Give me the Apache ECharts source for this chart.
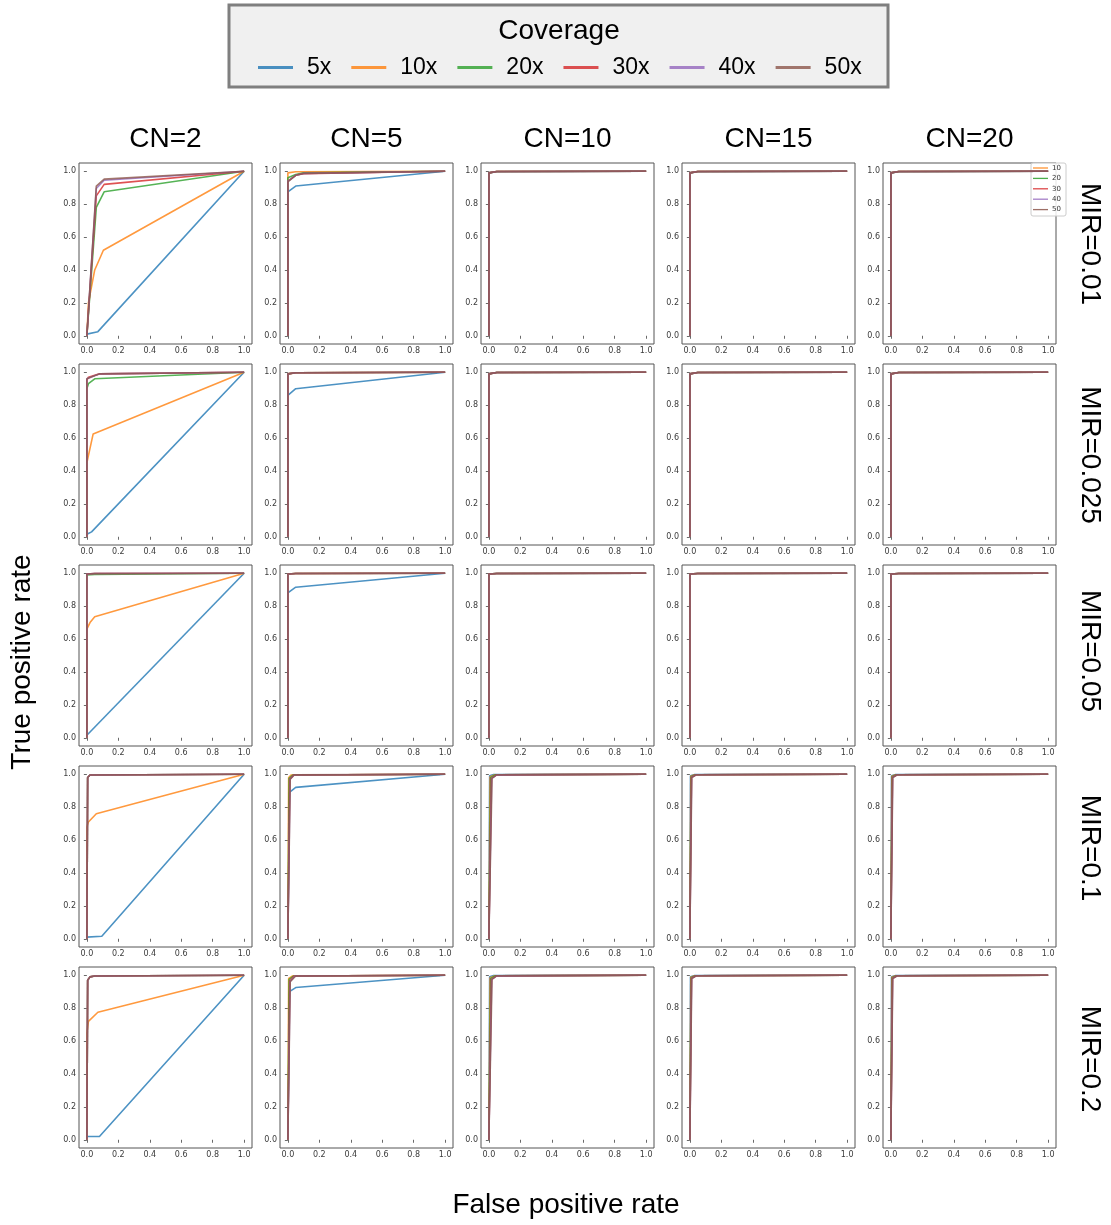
<!DOCTYPE html>
<html>
<head>
<meta charset="utf-8">
<script src="https://cdn.jsdelivr.net/npm/echarts@6/dist/echarts.min.js"></script>
<style>
html,body{margin:0;padding:0;background:#fff;}
#chart{width:1111px;height:1225px;}
</style>
</head>
<body>
<div id="chart"></div>
<script>
// ---------- labels ----------
const coverages = ['5x', '10x', '20x', '30x', '40x', '50x'];
const cnLabels = ['CN=2', 'CN=5', 'CN=10', 'CN=15', 'CN=20'];
const mirLabels = ['MIR=0.01', 'MIR=0.025', 'MIR=0.05', 'MIR=0.1', 'MIR=0.2'];
const tickValues = [0, 0.2, 0.4, 0.6, 0.8, 1.0];
const miniLegendLabels = ['10', '20', '30', '40', '50'];
const xTitle = 'False positive rate';
const yTitle = 'True positive rate';
const legendTitle = 'Coverage';

// ---------- ROC curves: [FPR, TPR] per coverage (5x,10x,20x,30x,40x,50x) ----------
// MIR = 0.01
const roc_mir001_cn2 = [
  [[0,0.01],[0.07,0.025],[1,1]],
  [[0,0],[0.01,0.2],[0.05,0.4],[0.105,0.52],[1,1]],
  [[0,0],[0.06,0.78],[0.11,0.875],[1,1]],
  [[0,0],[0.06,0.85],[0.11,0.92],[1,1]],
  [[0,0],[0.06,0.895],[0.11,0.945],[1,1]],
  [[0,0],[0.06,0.91],[0.11,0.952],[1,1]]
];
const roc_mir001_cn5 = [
  [[0,0],[0,0.875],[0.05,0.91],[1,1]],
  [[0,0],[0,0.99],[0.05,0.997],[1,1]],
  [[0,0],[0,0.96],[0.05,0.98],[0.1,0.99],[1,1]],
  [[0,0],[0,0.94],[0.05,0.975],[0.1,0.985],[1,1]],
  [[0,0],[0,0.94],[0.05,0.975],[0.1,0.987],[1,1]],
  [[0,0],[0,0.935],[0.05,0.975],[0.1,0.987],[1,1]]
];
const roc_mir001_cn10 = [
  [[0,0],[0,0.99],[0.05,0.997],[1,1]],
  [[0,0],[0,0.99],[0.05,0.998],[1,1]],
  [[0,0],[0,0.99],[0.05,0.998],[1,1]],
  [[0,0],[0,0.99],[0.05,0.998],[1,1]],
  [[0,0],[0,0.99],[0.05,0.998],[1,1]],
  [[0,0],[0,0.99],[0.05,0.998],[1,1]]
];
const roc_mir001_cn15 = [
  [[0,0],[0,0.99],[0.05,0.997],[1,1]],
  [[0,0],[0,0.99],[0.05,0.998],[1,1]],
  [[0,0],[0,0.99],[0.05,0.998],[1,1]],
  [[0,0],[0,0.99],[0.05,0.998],[1,1]],
  [[0,0],[0,0.99],[0.05,0.998],[1,1]],
  [[0,0],[0,0.99],[0.05,0.998],[1,1]]
];
const roc_mir001_cn20 = [
  [[0,0],[0,0.99],[0.05,0.997],[1,1]],
  [[0,0],[0,0.99],[0.05,0.998],[1,1]],
  [[0,0],[0,0.99],[0.05,0.998],[1,1]],
  [[0,0],[0,0.99],[0.05,0.998],[1,1]],
  [[0,0],[0,0.99],[0.05,0.998],[1,1]],
  [[0,0],[0,0.99],[0.05,0.998],[1,1]]
];
// MIR = 0.025
const roc_mir0025_cn2 = [
  [[0,0.015],[0.03,0.03],[1,1]],
  [[0,0],[0,0.45],[0.04,0.625],[1,1]],
  [[0,0],[0,0.9],[0.01,0.93],[0.05,0.96],[1,1]],
  [[0,0],[0,0.95],[0.01,0.97],[0.08,0.99],[1,1]],
  [[0,0],[0,0.96],[0.01,0.972],[0.08,0.99],[1,1]],
  [[0,0],[0,0.96],[0.01,0.972],[0.08,0.99],[1,1]]
];
const roc_mir0025_cn5 = [
  [[0,0],[0,0.86],[0.05,0.9],[1,1]],
  [[0,0],[0,0.99],[0.05,0.997],[1,1]],
  [[0,0],[0,0.99],[0.05,0.997],[1,1]],
  [[0,0],[0,0.99],[0.05,0.997],[1,1]],
  [[0,0],[0,0.99],[0.05,0.997],[1,1]],
  [[0,0],[0,0.99],[0.05,0.997],[1,1]]
];
const roc_mir0025_cn10 = [
  [[0,0],[0,0.99],[0.05,0.998],[1,1]],
  [[0,0],[0,0.99],[0.05,0.998],[1,1]],
  [[0,0],[0,0.99],[0.05,0.998],[1,1]],
  [[0,0],[0,0.99],[0.05,0.998],[1,1]],
  [[0,0],[0,0.99],[0.05,0.998],[1,1]],
  [[0,0],[0,0.99],[0.05,0.998],[1,1]]
];
const roc_mir0025_cn15 = [
  [[0,0],[0,0.99],[0.05,0.998],[1,1]],
  [[0,0],[0,0.99],[0.05,0.998],[1,1]],
  [[0,0],[0,0.99],[0.05,0.998],[1,1]],
  [[0,0],[0,0.99],[0.05,0.998],[1,1]],
  [[0,0],[0,0.99],[0.05,0.998],[1,1]],
  [[0,0],[0,0.99],[0.05,0.998],[1,1]]
];
const roc_mir0025_cn20 = [
  [[0,0],[0,0.99],[0.05,0.998],[1,1]],
  [[0,0],[0,0.99],[0.05,0.998],[1,1]],
  [[0,0],[0,0.99],[0.05,0.998],[1,1]],
  [[0,0],[0,0.99],[0.05,0.998],[1,1]],
  [[0,0],[0,0.99],[0.05,0.998],[1,1]],
  [[0,0],[0,0.99],[0.05,0.998],[1,1]]
];
// MIR = 0.05
const roc_mir005_cn2 = [
  [[0,0.015],[0.01,0.02],[1,1]],
  [[0,0],[0,0.66],[0.02,0.7],[0.05,0.735],[1,1]],
  [[0,0],[0,0.99],[0.05,0.993],[1,1]],
  [[0,0],[0,0.995],[0.05,0.998],[1,1]],
  [[0,0],[0,0.995],[0.05,0.998],[1,1]],
  [[0,0],[0,0.995],[0.05,0.998],[1,1]]
];
const roc_mir005_cn5 = [
  [[0,0],[0,0.88],[0.05,0.915],[1,1]],
  [[0,0],[0,0.995],[0.05,0.998],[1,1]],
  [[0,0],[0,0.995],[0.05,0.998],[1,1]],
  [[0,0],[0,0.995],[0.05,0.998],[1,1]],
  [[0,0],[0,0.995],[0.05,0.998],[1,1]],
  [[0,0],[0,0.995],[0.05,0.998],[1,1]]
];
const roc_mir005_cn10 = [
  [[0,0],[0,0.995],[0.05,0.998],[1,1]],
  [[0,0],[0,0.995],[0.05,0.998],[1,1]],
  [[0,0],[0,0.995],[0.05,0.998],[1,1]],
  [[0,0],[0,0.995],[0.05,0.998],[1,1]],
  [[0,0],[0,0.995],[0.05,0.998],[1,1]],
  [[0,0],[0,0.995],[0.05,0.998],[1,1]]
];
const roc_mir005_cn15 = [
  [[0,0],[0,0.995],[0.05,0.998],[1,1]],
  [[0,0],[0,0.995],[0.05,0.998],[1,1]],
  [[0,0],[0,0.995],[0.05,0.998],[1,1]],
  [[0,0],[0,0.995],[0.05,0.998],[1,1]],
  [[0,0],[0,0.995],[0.05,0.998],[1,1]],
  [[0,0],[0,0.995],[0.05,0.998],[1,1]]
];
const roc_mir005_cn20 = [
  [[0,0],[0,0.995],[0.05,0.998],[1,1]],
  [[0,0],[0,0.995],[0.05,0.998],[1,1]],
  [[0,0],[0,0.995],[0.05,0.998],[1,1]],
  [[0,0],[0,0.995],[0.05,0.998],[1,1]],
  [[0,0],[0,0.995],[0.05,0.998],[1,1]],
  [[0,0],[0,0.995],[0.05,0.998],[1,1]]
];
// MIR = 0.1
const roc_mir01_cn2 = [
  [[0,0.01],[0.095,0.015],[1,1]],
  [[0,0],[0,0.68],[0.01,0.71],[0.06,0.76],[1,1]],
  [[0,0],[0.005,0.98],[0.02,0.995],[1,1]],
  [[0,0],[0.005,0.98],[0.02,0.995],[1,1]],
  [[0,0],[0.005,0.98],[0.02,0.995],[1,1]],
  [[0,0],[0.005,0.98],[0.02,0.995],[1,1]]
];
const roc_mir01_cn5 = [
  [[0,0],[0.01,0.89],[0.05,0.92],[1,1]],
  [[0,0],[0.005,0.98],[0.02,0.995],[1,1]],
  [[0,0],[0.008,0.975],[0.03,0.995],[1,1]],
  [[0,0],[0.012,0.97],[0.035,0.995],[1,1]],
  [[0,0],[0.014,0.97],[0.04,0.995],[1,1]],
  [[0,0],[0.015,0.97],[0.04,0.996],[1,1]]
];
const roc_mir01_cn10 = [
  [[0,0],[0.005,0.99],[0.03,0.998],[1,1]],
  [[0,0],[0.008,0.985],[0.04,0.997],[1,1]],
  [[0,0],[0.012,0.98],[0.04,0.996],[1,1]],
  [[0,0],[0.016,0.975],[0.05,0.996],[1,1]],
  [[0,0],[0.018,0.975],[0.05,0.996],[1,1]],
  [[0,0],[0.02,0.975],[0.05,0.997],[1,1]]
];
const roc_mir01_cn15 = [
  [[0,0],[0.004,0.99],[0.03,0.998],[1,1]],
  [[0,0],[0.006,0.988],[0.03,0.997],[1,1]],
  [[0,0],[0.008,0.985],[0.035,0.997],[1,1]],
  [[0,0],[0.01,0.982],[0.04,0.997],[1,1]],
  [[0,0],[0.011,0.982],[0.04,0.997],[1,1]],
  [[0,0],[0.012,0.98],[0.04,0.997],[1,1]]
];
const roc_mir01_cn20 = [
  [[0,0],[0.004,0.99],[0.03,0.998],[1,1]],
  [[0,0],[0.006,0.988],[0.03,0.997],[1,1]],
  [[0,0],[0.008,0.985],[0.035,0.997],[1,1]],
  [[0,0],[0.01,0.982],[0.04,0.997],[1,1]],
  [[0,0],[0.011,0.982],[0.04,0.997],[1,1]],
  [[0,0],[0.012,0.98],[0.04,0.997],[1,1]]
];
// MIR = 0.2
const roc_mir02_cn2 = [
  [[0,0.02],[0.08,0.02],[1,1]],
  [[0,0],[0,0.65],[0.01,0.72],[0.07,0.775],[1,1]],
  [[0,0],[0.005,0.97],[0.02,0.99],[0.05,0.995],[1,1]],
  [[0,0],[0.005,0.97],[0.02,0.99],[0.05,0.995],[1,1]],
  [[0,0],[0.005,0.97],[0.02,0.99],[0.05,0.995],[1,1]],
  [[0,0],[0.005,0.97],[0.02,0.99],[0.05,0.995],[1,1]]
];
const roc_mir02_cn5 = [
  [[0,0],[0.01,0.9],[0.02,0.91],[0.05,0.925],[1,1]],
  [[0,0],[0.005,0.98],[0.03,0.995],[1,1]],
  [[0,0],[0.008,0.975],[0.035,0.995],[1,1]],
  [[0,0],[0.012,0.965],[0.04,0.995],[1,1]],
  [[0,0],[0.014,0.962],[0.045,0.995],[1,1]],
  [[0,0],[0.015,0.96],[0.05,0.995],[1,1]]
];
const roc_mir02_cn10 = [
  [[0,0],[0.005,0.99],[0.03,0.998],[1,1]],
  [[0,0],[0.008,0.985],[0.04,0.997],[1,1]],
  [[0,0],[0.012,0.98],[0.04,0.996],[1,1]],
  [[0,0],[0.016,0.975],[0.05,0.996],[1,1]],
  [[0,0],[0.018,0.975],[0.05,0.996],[1,1]],
  [[0,0],[0.02,0.975],[0.05,0.997],[1,1]]
];
const roc_mir02_cn15 = [
  [[0,0],[0.004,0.99],[0.03,0.998],[1,1]],
  [[0,0],[0.006,0.988],[0.03,0.997],[1,1]],
  [[0,0],[0.008,0.985],[0.035,0.997],[1,1]],
  [[0,0],[0.01,0.982],[0.04,0.997],[1,1]],
  [[0,0],[0.011,0.982],[0.04,0.997],[1,1]],
  [[0,0],[0.012,0.98],[0.04,0.997],[1,1]]
];
const roc_mir02_cn20 = [
  [[0,0],[0.004,0.99],[0.03,0.998],[1,1]],
  [[0,0],[0.006,0.988],[0.03,0.997],[1,1]],
  [[0,0],[0.008,0.985],[0.035,0.997],[1,1]],
  [[0,0],[0.01,0.982],[0.04,0.997],[1,1]],
  [[0,0],[0.011,0.982],[0.04,0.997],[1,1]],
  [[0,0],[0.012,0.98],[0.04,0.997],[1,1]]
];

const panels = [
  [roc_mir001_cn2, roc_mir001_cn5, roc_mir001_cn10, roc_mir001_cn15, roc_mir001_cn20],
  [roc_mir0025_cn2, roc_mir0025_cn5, roc_mir0025_cn10, roc_mir0025_cn15, roc_mir0025_cn20],
  [roc_mir005_cn2, roc_mir005_cn5, roc_mir005_cn10, roc_mir005_cn15, roc_mir005_cn20],
  [roc_mir01_cn2, roc_mir01_cn5, roc_mir01_cn10, roc_mir01_cn15, roc_mir01_cn20],
  [roc_mir02_cn2, roc_mir02_cn5, roc_mir02_cn10, roc_mir02_cn15, roc_mir02_cn20]
];

// ---------- styling / layout ----------
const colors = ['#1f77b4', '#ff7f0e', '#2ca02c', '#d62728', '#9467bd', '#8c564b'];
const gridLeft0 = 79, gridTop0 = 163, gridStep = 201, gridW = 173, gridH = 181;
const rowLabelCenters = [244, 455, 651, 848, 1059];
const titleFont = 'Liberation Sans, Arial, Helvetica, sans-serif';
const tickFont = 'DejaVu Sans, sans-serif';

const grids = [], xAxes = [], yAxes = [], series = [];
let idx = 0;
for (let r = 0; r < 5; r++) {
  for (let c = 0; c < 5; c++) {
    grids.push({
      left: gridLeft0 + c * gridStep, top: gridTop0 + r * gridStep,
      width: gridW, height: gridH, show: true,
      borderColor: '#555', borderWidth: 1, backgroundColor: 'transparent', containLabel: false
    });
    const axisCommon = {
      gridIndex: idx, type: 'value', min: -0.05, max: 1.05,
      axisLine: { show: false },
      axisTick: { show: true, customValues: tickValues, length: 3, lineStyle: { color: '#444', width: 0.8 } },
      axisLabel: { customValues: tickValues, formatter: v => v.toFixed(1), fontSize: 8, color: '#3a3a3a', fontFamily: tickFont, margin: 3 },
      splitLine: { show: false }
    };
    xAxes.push(Object.assign({}, axisCommon));
    yAxes.push(Object.assign({}, axisCommon));
    const curves = panels[r][c];
    for (let k = 0; k < coverages.length; k++) {
      series.push({
        type: 'line', name: coverages[k], xAxisIndex: idx, yAxisIndex: idx,
        data: curves[k], showSymbol: false, symbol: 'none', silent: true,
        lineStyle: { width: 1.6, color: colors[k], opacity: 0.8 },
        itemStyle: { color: colors[k] }
      });
    }
    idx++;
  }
}

const graphics = [];
// legend box
graphics.push({
  type: 'rect', z: 0, shape: { x: 229, y: 5, width: 659, height: 82 },
  style: { fill: '#f0f0f0', stroke: '#7f7f7f', lineWidth: 3 }
});
graphics.push({
  type: 'text', z: 1, style: { x: 559, y: 31, text: legendTitle, fontSize: 28, fontFamily: titleFont, fill: '#000', textAlign: 'center', textVerticalAlign: 'middle' }
});
// column titles
cnLabels.forEach((t, c) => {
  graphics.push({
    type: 'text', style: { x: gridLeft0 + c * gridStep + gridW / 2, y: 139, text: t, fontSize: 28, fontFamily: titleFont, fill: '#000', textAlign: 'center', textVerticalAlign: 'middle' }
  });
});
// row labels (right side)
mirLabels.forEach((t, r) => {
  graphics.push({
    type: 'text', x: 1090, y: rowLabelCenters[r], rotation: -Math.PI / 2,
    style: { x: 0, y: 0, text: t, fontSize: 28, fontFamily: titleFont, fill: '#000', textAlign: 'center', textVerticalAlign: 'middle' }
  });
});
// axis titles
graphics.push({
  type: 'text', x: 22, y: 662, rotation: Math.PI / 2,
  style: { x: 0, y: 0, text: yTitle, fontSize: 28, fontFamily: titleFont, fill: '#000', textAlign: 'center', textVerticalAlign: 'middle' }
});
graphics.push({
  type: 'text', style: { x: 566, y: 1205, text: xTitle, fontSize: 28, fontFamily: titleFont, fill: '#000', textAlign: 'center', textVerticalAlign: 'middle' }
});
// mini legend in top-right panel
const miniChildren = [{
  type: 'rect', shape: { x: 0, y: 0, width: 35, height: 53, r: 2 },
  style: { fill: 'rgba(255,255,255,0.85)', stroke: '#ccc', lineWidth: 1 }
}];
miniLegendLabels.forEach((t, i) => {
  const yy = 5 + i * 10.4;
  miniChildren.push({ type: 'line', shape: { x1: 2, y1: yy, x2: 17, y2: yy }, style: { stroke: colors[i + 1], lineWidth: 1.3, opacity: 0.85 } });
  miniChildren.push({ type: 'text', style: { x: 21, y: yy, text: t, fontSize: 7, fontFamily: tickFont, fill: '#333', textVerticalAlign: 'middle' } });
});
graphics.push({ type: 'group', x: 1031, y: 163, z: 100, children: miniChildren });

const option = {
  animation: false,
  backgroundColor: '#fff',
  grid: grids,
  xAxis: xAxes,
  yAxis: yAxes,
  series: series,
  legend: {
    z: 10,
    data: coverages,
    left: 258, top: 56,
    icon: 'rect', itemWidth: 35, itemHeight: 3, itemGap: 20,
    padding: 0,
    selectedMode: false,
    itemStyle: { opacity: 0.8 },
    textStyle: { fontSize: 23, fontFamily: titleFont, color: '#000', padding: [0, 0, 0, 9] }
  },
  graphic: graphics
};

const chart = echarts.init(document.getElementById('chart'), null, { renderer: 'canvas' });
chart.setOption(option);
</script>
</body>
</html>
